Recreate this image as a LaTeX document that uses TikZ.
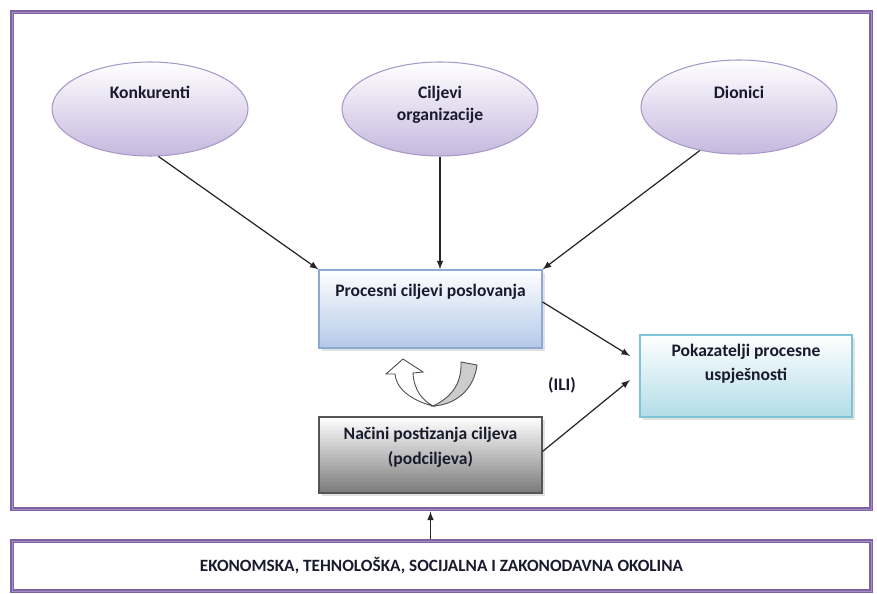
\documentclass[tikz,border=0pt]{standalone}
\usepackage{fontspec}
\setmainfont{Carlito}
\usetikzlibrary{shapes.geometric,shadows}

\definecolor{framepurple}{HTML}{7F62A3}
\definecolor{framelight}{HTML}{A48FC4}
\definecolor{ovalfill}{HTML}{C5B8DE}
\definecolor{ovalline}{HTML}{A898C8}
\definecolor{procfill}{HTML}{B3C9E8}
\definecolor{procline}{HTML}{8FAAD2}
\definecolor{pokfill}{HTML}{B2DDE8}
\definecolor{pokline}{HTML}{7FC4D6}
\definecolor{nacfill}{HTML}{7A7A7A}
\definecolor{nacline}{HTML}{555555}
\definecolor{txt}{HTML}{1A1A2E}

\tikzset{
  frame/.style={draw=framepurple, line width=2.8pt, inner sep=0pt,
    postaction={draw=framelight, line width=0.4pt}},
  oval/.style={ellipse, draw=ovalline, line width=0.6pt, top color=white,
    bottom color=ovalfill, minimum width=196*0.02cm, minimum height=94*0.02cm},
  ovaltext/.style={anchor=center, text=txt, align=center,
    font={\fontsize{10}{12.5}\selectfont\bfseries}},
  box/.style={rectangle, line width=0.6pt, inner sep=0pt,
    drop shadow={shadow xshift=1.8pt, shadow yshift=-1.8pt, fill=gray!45}},
  boxtext/.style={anchor=center, text=txt, align=center,
    font={\fontsize{10}{14}\selectfont\bfseries}},
  conn/.style={-latex, draw=black!85, line width=0.7pt}
}

\begin{document}
\begin{tikzpicture}[x=0.02cm, y=-0.02cm]
  \useasboundingbox (0,0) rectangle (877,594);

  % outer frames
  \node[frame, minimum width=859*0.02cm, minimum height=497*0.02cm] (org) at (441.5,260.5) {};
  \node[frame, minimum width=859*0.02cm, minimum height=50*0.02cm,
    label={[boxtext, font={\fontsize{9.8}{12}\selectfont\bfseries}]center:EKONOMSKA, TEHNOLOŠKA, SOCIJALNA I ZAKONODAVNA OKOLINA}] (env) at (441.5,566) {};

  % ellipses
  \node[oval, label={[ovaltext, yshift=-17.6pt]north:Konkurenti}] (konk) at (150,109) {};
  \node[oval, label={[ovaltext, yshift=-24.5pt]north:Ciljevi\\organizacije}] (cilj) at (440,109) {};
  \node[oval, label={[ovaltext, yshift=-18.5pt]north:Dionici}] (dion) at (739,107) {};

  % boxes
  \node[box, draw=procline, top color=white, bottom color=procfill,
    minimum width=223*0.02cm, minimum height=78*0.02cm,
    label={[boxtext, yshift=-13pt]north:Procesni ciljevi poslovanja}] (proc) at (430.5,309) {};
  \node[box, draw=nacline, top color=white, bottom color=nacfill,
    minimum width=223*0.02cm, minimum height=76*0.02cm,
    label={[boxtext, yshift=-17.4pt]north:Načini postizanja ciljeva\\(podciljeva)}] (nacini) at (430.5,455) {};
  \node[box, draw=pokline, top color=white, bottom color=pokfill,
    minimum width=212*0.02cm, minimum height=82*0.02cm,
    label={[boxtext, yshift=-16.8pt]north:Pokazatelji procesne\\uspješnosti}] (pok) at (746,376) {};

  \node[boxtext] (ili) at (562,385) {(ILI)};

  \coordinate (pin1) at (630,356);
  \coordinate (pin2) at (630,380);

  % connectors
  \draw[conn] (konk.-80) -- (proc.north west);
  \draw[conn] (cilj.south) -- (cilj.south |- proc.north);
  \draw[conn] (dion.228) -- (proc.north east);
  \draw[conn] ([yshift=4pt]proc.east) -- (pin1);
  \draw[conn] ([yshift=2pt]nacini.east) -- (pin2);
  \draw[conn] (env.north -| nacini) -- (org.south -| nacini);

  % u-turn arrow between the boxes
  \filldraw[fill=gray!40, draw=black!70, line width=0.5pt]
    (461,362) -- (477,365) .. controls (474,390) and (455,405) .. (433,406)
    .. controls (450,398) and (462,385) .. (461,362) -- cycle;
  \filldraw[fill=white, draw=black!70, line width=0.5pt]
    (433,406) .. controls (410,400) and (396,388) .. (395,374)
    -- (386,374) -- (403,359) -- (423,372) -- (413,373)
    .. controls (414,390) and (422,400) .. (433,406) -- cycle;
\end{tikzpicture}
\end{document}
